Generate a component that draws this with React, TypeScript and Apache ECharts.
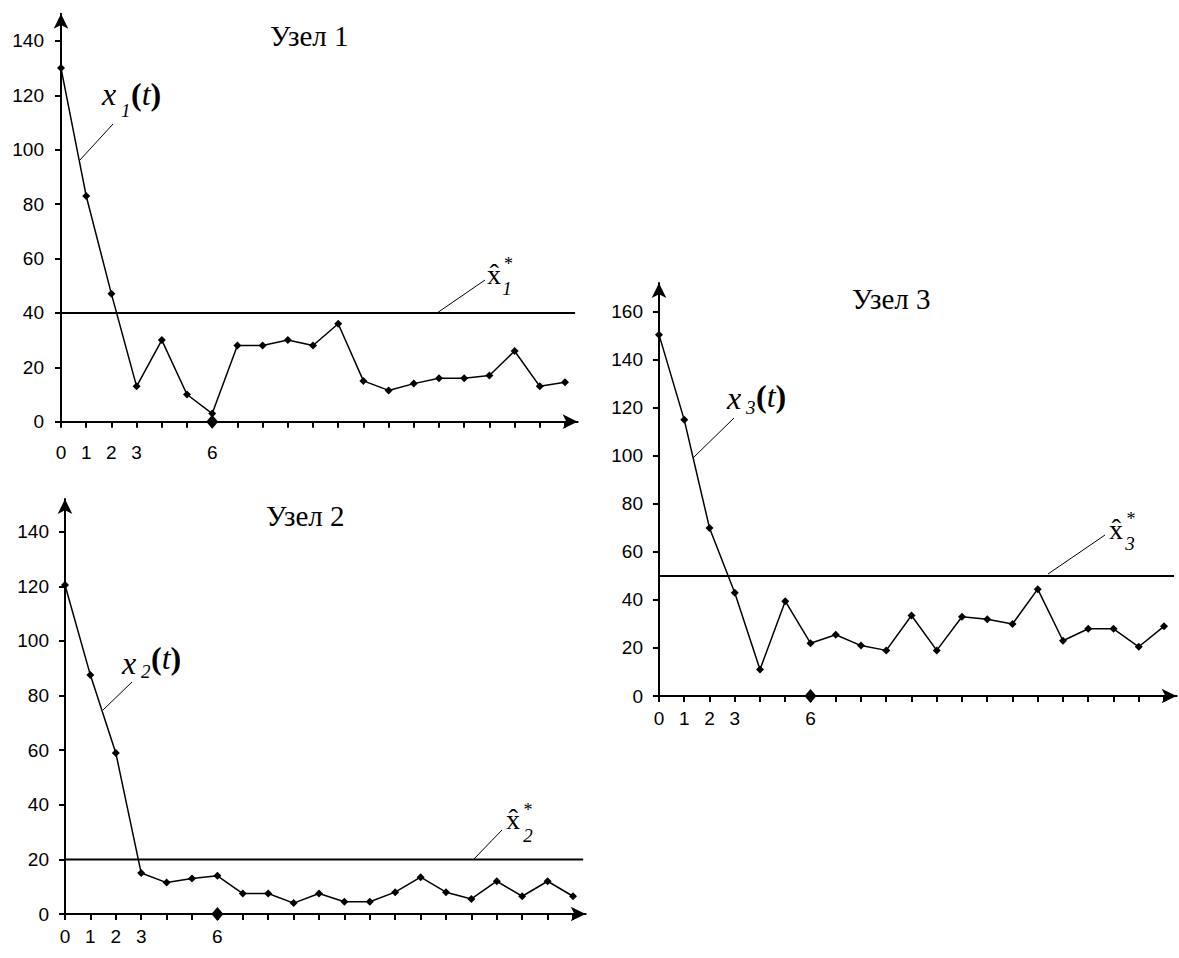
import React, { useEffect, useRef } from "react";
import * as echarts from "echarts";

// ---- data ----
const steps = [0, 1, 2, 3, 4, 5, 6, 7, 8, 9, 10, 11, 12, 13, 14, 15, 16, 17, 18, 19, 20];
const labeledSteps = [0, 1, 2, 3, 6];
const markedStep = 6;
const node1Values = [130, 83, 47, 13, 30, 10, 3, 28, 28, 30, 28, 36, 15, 11.5, 14, 16, 16, 17, 26, 13, 14.5];
const node2Values = [120.5, 87.5, 59, 15, 11.5, 13, 14, 7.5, 7.5, 4, 7.5, 4.5, 4.5, 8, 13.5, 8, 5.5, 12, 6.5, 12, 6.5];
const node3Values = [150.5, 115, 70, 43, 11, 39.5, 22, 25.5, 21, 19, 33.5, 19, 33, 32, 30, 44.5, 23, 28, 28, 20.5, 29];
const thresholds = [40, 20, 50];
const yTicks12 = [0, 20, 40, 60, 80, 100, 120, 140];
const yTicks3 = [0, 20, 40, 60, 80, 100, 120, 140, 160];
const titles = ["Узел 1", "Узел 2", "Узел 3"];
const subscripts = ["1", "2", "3"];

// ---- layout ----
const panels = [
  { left: 61, top: 13.7, width: 516.6, height: 408, yMax: 150, yTicks: yTicks12, yMargin: 17, xMargin: 21 },
  { left: 65, top: 499, width: 520.7, height: 415, yMax: 152, yTicks: yTicks12, yMargin: 16, xMargin: 13 },
  { left: 659, top: 283, width: 517.6, height: 413, yMax: 172, yTicks: yTicks3, yMargin: 16, xMargin: 13 },
];
const xMax = 20.5;
const thresholdEnd = 20.4;

const SERIF = "'Liberation Serif', 'Times New Roman', serif";
const SANS = "'Liberation Sans', Arial, sans-serif";

// annotation positions (pixels)
const curveLabels = [
  { xLeft: 102, xMid: 93.5, subLeft: 121, subMid: 110, parLeft: 131, parMid: 94, lead: [80, 160, 113, 124] },
  { xLeft: 122, xMid: 663, subLeft: 141, subMid: 671, parLeft: 151, parMid: 658, lead: [103, 710, 132, 682] },
  { xLeft: 727, xMid: 398, subLeft: 746, subMid: 407, parLeft: 756, parMid: 396, lead: [693, 458, 734, 418] },
];
const hatLabels = [
  { xLeft: 487, xMid: 274, starX: 508.5, starMid: 264, subX: 507, subMid: 288, lead: [437, 313, 485, 280] },
  { xLeft: 506, xMid: 819, starX: 528, starMid: 810, subX: 528, subMid: 835, lead: [473, 860, 502, 830] },
  { xLeft: 1109, xMid: 529, starX: 1131, starMid: 519, subX: 1130, subMid: 543, lead: [1048, 574, 1105, 535] },
];
const titlePos = [
  { x: 270, y: 36 },
  { x: 266, y: 516 },
  { x: 852, y: 299 },
];

function txt(x: number, y: number, text: string, size: number, opts: any = {}) {
  return {
    type: "text",
    x,
    y,
    z: 100,
    style: {
      text,
      fontSize: size,
      fontFamily: SERIF,
      fontStyle: opts.italic ? "italic" : "normal",
      fill: "#000",
      align: opts.align || "left",
      verticalAlign: "middle",
      lineHeight: opts.lineHeight,
      rich: opts.rich,
    },
  };
}

function leader(l: number[]) {
  return {
    type: "line",
    z: 100,
    shape: { x1: l[0], y1: l[1], x2: l[2], y2: l[3] },
    style: { stroke: "#000", lineWidth: 1 },
  };
}

export default function App() {
  const ref = useRef<HTMLDivElement>(null);

  useEffect(() => {
    if (!ref.current) return;
    const chart = echarts.init(ref.current, null, { renderer: "svg" });
    const valueSets = [node1Values, node2Values, node3Values];

    const grid = panels.map((p) => ({
      left: p.left,
      top: p.top,
      width: p.width,
      height: p.height,
      containLabel: false,
      outerBoundsMode: "none",
    }));

    const xAxis = panels.map((p, i) => ({
      type: "value",
      gridIndex: i,
      min: 0,
      max: xMax,
      axisLine: {
        show: true,
        onZero: false,
        symbol: ["none", "arrow"],
        symbolSize: [11, 15],
        lineStyle: { color: "#000", width: 2 },
      },
      axisTick: { show: true, length: 6, customValues: steps, lineStyle: { color: "#000", width: 2 } },
      axisLabel: {
        show: true,
        customValues: labeledSteps,
        margin: p.xMargin,
        fontSize: 19,
        fontFamily: SANS,
        color: "#000",
      },
      splitLine: { show: false },
    }));

    const yAxis = panels.map((p, i) => ({
      type: "value",
      gridIndex: i,
      min: 0,
      max: p.yMax,
      axisLine: {
        show: true,
        onZero: false,
        symbol: ["none", "arrow"],
        symbolSize: [11, 15],
        lineStyle: { color: "#000", width: 2 },
      },
      axisTick: { show: true, length: 6, customValues: p.yTicks, lineStyle: { color: "#000", width: 2 } },
      axisLabel: {
        show: true,
        customValues: p.yTicks,
        margin: p.yMargin,
        fontSize: 19,
        fontFamily: SANS,
        color: "#000",
      },
      splitLine: { show: false },
    }));

    const series: any[] = [];
    valueSets.forEach((vals, i) => {
      series.push({
        type: "line",
        xAxisIndex: i,
        yAxisIndex: i,
        data: steps.map((t, k) => [t, vals[k]]),
        symbol: "diamond",
        symbolSize: 8,
        showSymbol: true,
        lineStyle: { color: "#000", width: 1.5 },
        itemStyle: { color: "#000", opacity: 1 },
        z: 3,
        silent: true,
      });
      series.push({
        type: "line",
        xAxisIndex: i,
        yAxisIndex: i,
        data: [
          [0, thresholds[i]],
          [thresholdEnd, thresholds[i]],
        ],
        symbol: "none",
        lineStyle: { color: "#000", width: 2 },
        z: 2,
        silent: true,
      });
      series.push({
        type: "scatter",
        xAxisIndex: i,
        yAxisIndex: i,
        data: [[markedStep, 0]],
        symbol: "diamond",
        symbolSize: [12, 14],
        itemStyle: { color: "#000", opacity: 1 },
        z: 5,
        silent: true,
      });
    });

    const graphic: any[] = [];
    titles.forEach((t, i) => {
      graphic.push(txt(titlePos[i].x, titlePos[i].y, t, 29));
    });
    curveLabels.forEach((c, i) => {
      graphic.push(leader(c.lead));
      graphic.push(txt(c.xLeft, c.xMid, "x", 32, { italic: true, lineHeight: 18 }));
      graphic.push(txt(c.subLeft, c.subMid, subscripts[i], 19, { italic: true, lineHeight: 12 }));
      graphic.push(
        txt(c.parLeft, c.parMid, "{p|(}{t|t}{p|)}", 32, {
          rich: {
            p: { fontSize: 32, fontFamily: SERIF, fontWeight: "bold", fill: "#000" },
            t: { fontSize: 32, fontFamily: SERIF, fontStyle: "italic", fill: "#000" },
          },
        })
      );
    });
    hatLabels.forEach((h, i) => {
      graphic.push(leader(h.lead));
      graphic.push(txt(h.xLeft, h.xMid, "x\u0302", 28, { lineHeight: 16 }));
      graphic.push(txt(h.starX, h.starMid, "*", 18, { align: "center", lineHeight: 10 }));
      graphic.push(txt(h.subX, h.subMid, subscripts[i], 19, { italic: true, align: "center", lineHeight: 12 }));
    });

    chart.setOption({
      animation: false,
      backgroundColor: "#fff",
      grid,
      xAxis,
      yAxis,
      series,
      graphic,
    });

    return () => chart.dispose();
  }, []);

  return (
    <div
      ref={ref}
      style={{ position: "absolute", left: 0, top: 0, width: 1179, height: 958, background: "#fff" }}
    />
  );
}
